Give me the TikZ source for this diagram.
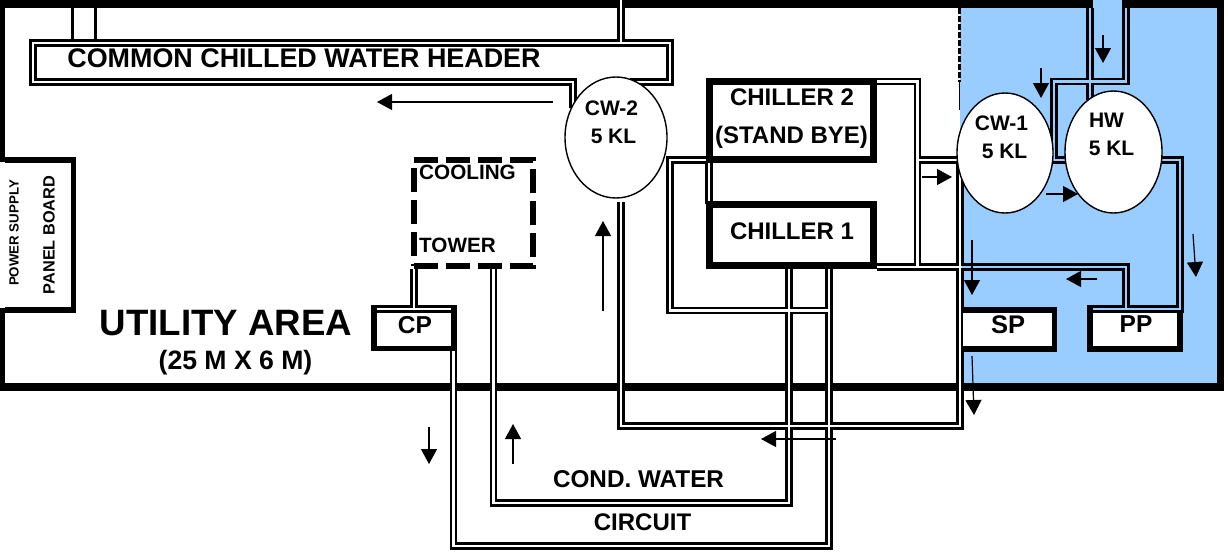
\documentclass[tikz,border=0pt]{standalone}
\usepackage{fontspec}
\setmainfont{Liberation Sans}
\usetikzlibrary{arrows.meta,shapes.geometric}
\definecolor{zoneblue}{HTML}{99CCFF}
\pgfdeclarelayer{back}
\pgfdeclarelayer{pipes}
\pgfsetlayers{back,pipes,main}
\newcommand{\fs}[1]{\fontsize{#1}{#1}\selectfont\bfseries}
\tikzset{
  wall/.style={fill=black,draw=none},
  tank/.style={ellipse,draw=black,fill=white,line width=1.4pt,inner sep=0pt,outer sep=0pt},
  heavybox/.style={rectangle,draw=black,fill=white,line width=7pt,inner sep=0pt,outer sep=0pt},
  plate/.style={rectangle,fill=white,inner sep=0pt,outer sep=0pt},
  edgeline/.style={draw=black,line width=5.5pt,line join=miter},
  towerbox/.style={rectangle,draw=black,line width=5.5pt,dash pattern=on 24pt off 8pt,inner sep=0pt,outer sep=0pt},
  lab/.style={inner sep=0pt,outer sep=0pt,align=center},
  flow/.style={draw=black,line width=1.2pt,-{Triangle[length=15pt,width=16pt]}},
}
\begin{document}
\begin{tikzpicture}[x=1pt,y=-1pt]
\useasboundingbox (0,0) rectangle (1228,552);

% equipment
\node[tank,minimum width=102pt,minimum height=121pt] (cw2) at (616,137.5) {};
\node[tank,minimum width=96pt,minimum height=120pt] (cw1) at (1005,153) {};
\node[tank,minimum width=97pt,minimum height=122pt] (hw) at (1113.5,152) {};
\node[heavybox,minimum width=164pt,minimum height=78pt] (ch2) at (791.5,120.5) {};
\node[heavybox,minimum width=164pt,minimum height=61pt] (ch1) at (791.5,235) {};
\node[towerbox,minimum width=119pt,minimum height=106pt] (tower) at (473.5,213) {};
\node[plate,minimum width=90pt,minimum height=34pt] (sp) at (1008,330) {};
\node[plate,minimum width=84pt,minimum height=34pt] (pp) at (1135,330) {};
\node[plate,minimum width=74pt,minimum height=34pt] (cp) at (414,330) {};
\node[plate,minimum width=71pt,minimum height=146pt] (panel) at (35.5,235) {};

% named pipe points
\coordinate (topA) at (621,0);
\coordinate (hdrTop) at (621,43);
\coordinate (hdrA) at (573,108);
\coordinate (hdrB) at (573,82);
\coordinate (hdrC) at (33,82);
\coordinate (hdrD) at (33,43);
\coordinate (hdrE) at (670,43);
\coordinate (hdrF) at (670,82);
\coordinate (hdrG) at (630,82);
\coordinate (retA) at (621,202);
\coordinate (retB) at (621,426);
\coordinate (retC) at (960,426);
\coordinate (retD) at (960,160);
\coordinate (retE) at (917,160);
\coordinate (ch2A) at (877,81.5);
\coordinate (ch2B) at (917.5,81.5);
\coordinate (ch2C) at (917.5,267);
\coordinate (ch1A) at (877,267);
\coordinate (ppA) at (1126,267);
\coordinate (ppB) at (1126,309);
\coordinate (lA) at (709,204);
\coordinate (lB) at (709,160);
\coordinate (lC) at (670,160);
\coordinate (lD) at (670,310.5);
\coordinate (lE) at (829,310.5);
\coordinate (condA) at (789,268);
\coordinate (condB) at (789,503);
\coordinate (condC) at (493.5,503);
\coordinate (condD) at (493.5,269);
\coordinate (cirA) at (829,268);
\coordinate (cirB) at (829,546);
\coordinate (cirC) at (453.5,546);
\coordinate (cirD) at (453.5,349);
\coordinate (cpA) at (414,269);
\coordinate (cpB) at (414,309);
\coordinate (cpL) at (377,309);
\coordinate (cpR) at (451,309);
\coordinate (hwA) at (1090,8);
\coordinate (hwB) at (1090,100);
\coordinate (hwC) at (1126,8);
\coordinate (hwD) at (1126,81.5);
\coordinate (hwE) at (1054,81.5);
\coordinate (hwF) at (1054,160);
\coordinate (hwG) at (1100,160);
\coordinate (prA) at (1150,160);
\coordinate (prB) at (1180,160);
\coordinate (prC) at (1180,309);
\coordinate (prD) at (1093,309);
\coordinate (wall1) at (72.5,8);
\coordinate (wall2) at (95.5,8);
\coordinate (hdr1) at (72.5,40);
\coordinate (hdr2) at (95.5,40);

\newcommand{\allpipes}{%
  \path[pipe] (topA) -- (hdrTop);
  \path[pipe] (hdrA) -- (hdrB) -- (hdrC) -- (hdrD) -- (hdrE) -- (hdrF) -- (hdrG);
  \path[pipe] (retA) -- (retB) -- (retC) -- (retD) -- (retE);
  \path[pipe] (ch2A) -- (ch2B) -- (ch2C);
  \path[pipe] (ch1A) -- (ppA) -- (ppB);
  \path[pipe] (lA) -- (lB) -- (lC) -- (lD) -- (lE);
  \path[pipe] (condA) -- (condB) -- (condC) -- (condD);
  \path[pipe] (cirA) -- (cirB) -- (cirC) -- (cirD);
  \path[pipe] (cpA) -- (cpB);
  \path[pipe] (cpL) -- (cpR);
  \path[pipe] (hwA) -- (hwB);
  \path[pipe] (hwC) -- (hwD) -- (hwE) -- (hwF) -- (hwG);
  \path[pipe] (prA) -- (prB) -- (prC) -- (prD);
}

\begin{pgfonlayer}{back}
  \fill[white] (0,0) rectangle (1228,552);
  \fill[zoneblue] (960,8) rectangle (1217,383);
  \fill[wall] (0,0) rectangle (1093,8);
  \fill[wall] (1122,0) rectangle (1224,8);
  \fill[zoneblue] (1093,0) rectangle (1122,8);
  \fill[wall] (0,0) rectangle (5,391);
  \fill[wall] (1217,0) rectangle (1224,391);
  \fill[wall] (0,383) rectangle (1224,391);
  \draw[line width=3pt,dash pattern=on 6pt off 2pt] (959.5,8) -- (959.5,82);
  \draw[line width=1.2pt] (959.5,82) -- (959.5,110);
  \draw[line width=3pt] (wall1) -- (hdr1);
  \draw[line width=3pt] (wall2) -- (hdr2);
\end{pgfonlayer}

\begin{pgfonlayer}{pipes}
  \begin{scope}[pipe/.style={draw=black,line width=7.6pt,line join=miter}]
    \allpipes
  \end{scope}
  \begin{scope}[pipe/.style={draw=white,line width=2.4pt,line join=miter}]
    \allpipes
  \end{scope}
  \begin{scope}
    \clip (961.5,0) rectangle (1217,383);
    \begin{scope}[pipe/.style={draw=zoneblue,line width=2.4pt,line join=miter}]
      \allpipes
    \end{scope}
  \end{scope}
\end{pgfonlayer}

% open-sided equipment outlines
\draw[edgeline] (961,310) -- (1054.5,310) -- (1054.5,349) -- (961,349);
\draw[edgeline] (1090,305) -- (1090,349) -- (1180,349) -- (1180,313);
\draw[edgeline] (374,305) -- (374,348.5) -- (454,348.5) -- (454,305);
\draw[edgeline] (5,160) -- (73.5,160) -- (73.5,310) -- (5,310);

% labels
\node[lab,font=\fs{26.9}] (hdrlab) at (304,58) {COMMON CHILLED WATER HEADER};
\node[lab,font=\fs{21}] (l1) at (611.5,108) {CW-2};
\node[lab,font=\fs{21}] (l2) at (613.5,136) {5 KL};
\node[lab,font=\fs{21}] (l3) at (1001.5,123) {CW-1};
\node[lab,font=\fs{21}] (l4) at (1004.5,151) {5 KL};
\node[lab,font=\fs{21}] (l5) at (1106.5,120) {HW};
\node[lab,font=\fs{21}] (l6) at (1111.5,148) {5 KL};
\node[lab,font=\fs{24}] (l7) at (792,97) {CHILLER 2};
\node[lab,font=\fs{24}] (l8) at (791.5,137) {(STAND BYE)};
\node[lab,font=\fs{24}] (l9) at (792,231) {CHILLER 1};
\node[lab,font=\fs{20.7}] (l10) at (467.5,172) {COOLING};
\node[lab,font=\fs{20.7}] (l11) at (457.5,245) {TOWER};
\node[lab,font=\fs{36.7}] (l12) at (226,323) {UTILITY AREA};
\node[lab,font=\fs{26.6}] (l13) at (235.5,363) {(25 M X 6 M)};
\node[lab,font=\fs{24.5}] (l14) at (415,325) {CP};
\node[lab,font=\fs{25.5}] (l15) at (1008,325) {SP};
\node[lab,font=\fs{24.5}] (l16) at (1136,324) {PP};
\node[lab,font=\fs{24.3}] (l17) at (638.5,479) {COND. WATER};
\node[lab,font=\fs{24}] (l18) at (642.5,522) {CIRCUIT};
\node[lab,font=\fs{13.3},rotate=90] (l19) at (14,233) {POWER SUPPLY};
\node[lab,font=\fs{16.3},rotate=90] (l20) at (49,235) {PANEL BOARD};

% flow arrows
\coordinate (a1s) at (553,102); \coordinate (a1e) at (377,102);
\coordinate (a2s) at (603,311); \coordinate (a2e) at (603,221);
\coordinate (a3s) at (1103,35); \coordinate (a3e) at (1103,63);
\coordinate (a4s) at (1041,68); \coordinate (a4e) at (1041,98);
\coordinate (a5s) at (922,177); \coordinate (a5e) at (952,177);
\coordinate (a6s) at (1046,194); \coordinate (a6e) at (1078,194);
\coordinate (a7s) at (972,240); \coordinate (a7e) at (972,295);
\coordinate (a8s) at (1193,234); \coordinate (a8e) at (1196,277);
\coordinate (a9s) at (1097,279); \coordinate (a9e) at (1066,279);
\coordinate (a10s) at (972,356); \coordinate (a10e) at (974,415);
\coordinate (a11s) at (836,439); \coordinate (a11e) at (761,439);
\coordinate (a12s) at (513,464); \coordinate (a12e) at (513,424);
\coordinate (a13s) at (429,427); \coordinate (a13e) at (429,464);
\foreach \n in {1,...,13}{\draw[flow] (a\n s) -- (a\n e);}
\end{tikzpicture}
\end{document}
